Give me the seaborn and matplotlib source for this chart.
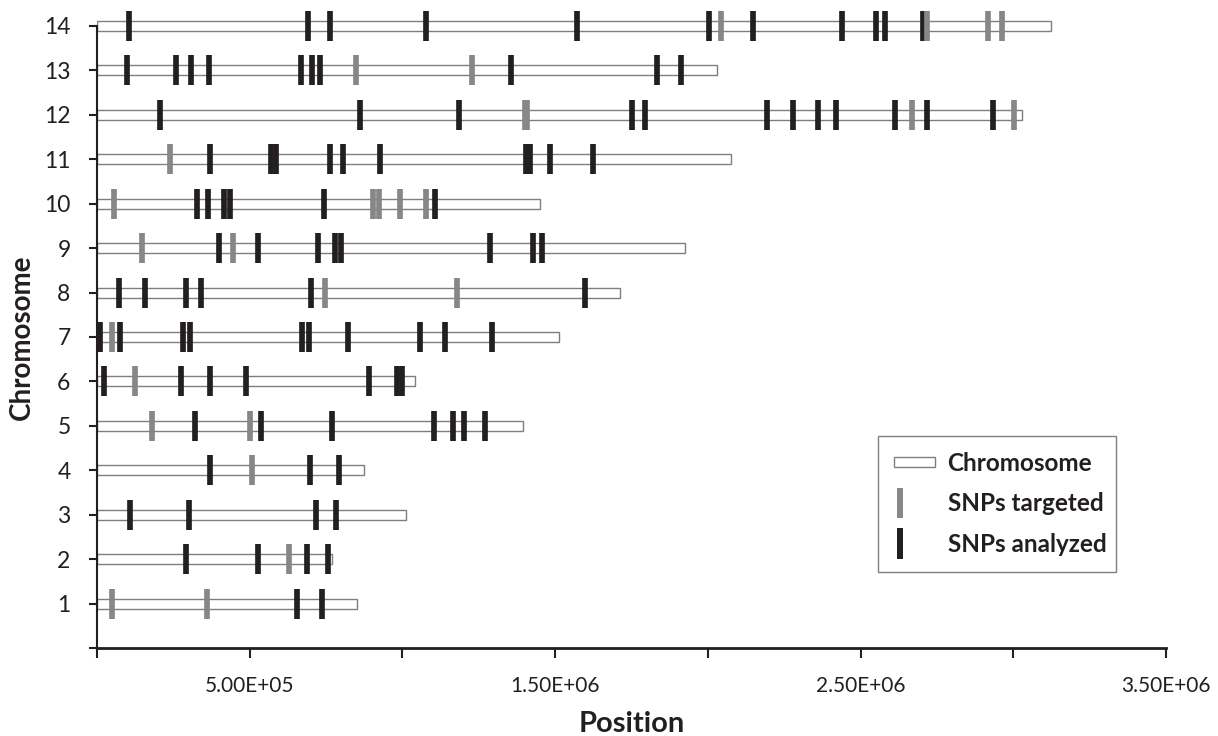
#!/usr/bin/env python3
"""
SNP map plot: chromosome lengths with targeted / analyzed SNP positions.

Usage:
    python plot.py
"""

import numpy as np
import pandas as pd
import matplotlib
matplotlib.use('Agg')
import matplotlib.pyplot as plt
from matplotlib.patches import Rectangle, Patch
from matplotlib.legend_handler import HandlerPatch
import seaborn as sns

# Chromosome lengths (bp)
chrom_ids = [1, 2, 3, 4, 5, 6, 7, 8, 9, 10, 11, 12, 13, 14]
chrom_lengths = [0.850e6, 0.769e6, 1.012e6, 0.873e6, 1.396e6, 1.041e6, 1.514e6,
                 1.711e6, 1.925e6, 1.449e6, 2.076e6, 3.029e6, 2.030e6, 3.124e6]

# SNPs targeted (gray)
targeted_chrom = [1, 1, 2, 4, 5, 5, 6, 7, 8, 8, 9, 9,
                  10, 10, 10, 10, 10, 11, 12, 12, 12, 12, 13, 13,
                  14, 14, 14, 14]
targeted_pos = [0.048e6, 0.361e6, 0.627e6, 0.508e6, 0.180e6, 0.500e6, 0.126e6,
                0.049e6, 0.747e6, 1.178e6, 0.148e6, 0.445e6,
                0.056e6, 0.905e6, 0.923e6, 0.991e6, 1.077e6, 0.240e6,
                1.400e6, 1.407e6, 2.667e6, 3.002e6, 0.849e6, 1.228e6,
                2.042e6, 2.719e6, 2.917e6, 2.963e6]

# SNPs analyzed (black)
analyzed_chrom = [1, 1,
                  2, 2, 2, 2,
                  3, 3, 3, 3,
                  4, 4, 4,
                  5, 5, 5, 5, 5, 5, 5,
                  6, 6, 6, 6, 6, 6, 6,
                  7, 7, 7, 7, 7, 7, 7, 7, 7, 7,
                  8, 8, 8, 8, 8, 8,
                  9, 9, 9, 9, 9, 9, 9, 9,
                  10, 10, 10, 10, 10, 10,
                  11, 11, 11, 11, 11, 11, 11, 11, 11, 11,
                  12, 12, 12, 12, 12, 12, 12, 12, 12, 12, 12, 12,
                  13, 13, 13, 13, 13, 13, 13, 13, 13, 13,
                  14, 14, 14, 14, 14, 14, 14, 14, 14, 14, 14]
analyzed_pos = [0.655e6, 0.737e6,
                0.293e6, 0.527e6, 0.688e6, 0.755e6,
                0.109e6, 0.301e6, 0.716e6, 0.784e6,
                0.371e6, 0.696e6, 0.792e6,
                0.322e6, 0.537e6, 0.769e6, 1.104e6, 1.165e6, 1.200e6, 1.269e6,
                0.023e6, 0.274e6, 0.371e6, 0.487e6, 0.891e6, 0.981e6, 1.000e6,
                0.011e6, 0.074e6, 0.280e6, 0.303e6, 0.672e6, 0.695e6, 0.822e6,
                1.056e6, 1.139e6, 1.293e6,
                0.072e6, 0.158e6, 0.292e6, 0.340e6, 0.702e6, 1.597e6,
                0.400e6, 0.526e6, 0.723e6, 0.780e6, 0.800e6, 1.286e6, 1.429e6, 1.456e6,
                0.328e6, 0.362e6, 0.416e6, 0.436e6, 0.742e6, 1.107e6,
                0.369e6, 0.569e6, 0.585e6, 0.764e6, 0.805e6, 0.926e6,
                1.404e6, 1.418e6, 1.482e6, 1.623e6,
                0.206e6, 0.862e6, 1.185e6, 1.750e6, 1.794e6, 2.193e6,
                2.279e6, 2.360e6, 2.420e6, 2.614e6, 2.716e6, 2.935e6,
                0.099e6, 0.259e6, 0.307e6, 0.366e6, 0.669e6, 0.703e6,
                0.729e6, 1.354e6, 1.835e6, 1.912e6,
                0.106e6, 0.692e6, 0.764e6, 1.076e6, 1.572e6, 2.004e6,
                2.148e6, 2.439e6, 2.549e6, 2.580e6, 2.703e6]

xtick_values = [0, 5e5, 1e6, 1.5e6, 2e6, 2.5e6, 3e6, 3.5e6]
xtick_labeled = [5e5, 1.5e6, 2.5e6, 3.5e6]

DARK = '#231f20'
GRAY = '#878787'
OUTLINE = '#7f7f7f'


def chrom_handle(legend, orig_handle, xdescent, ydescent, width, height, fontsize):
    h = 7.2
    return Rectangle((-xdescent, -ydescent + height / 2 - h / 2), width, h)


def snp_handle(legend, orig_handle, xdescent, ydescent, width, height, fontsize):
    h, w = 22.0, 4.3
    return Rectangle((-xdescent + 2.0, -ydescent + height / 2 - h / 2), w, h)


def main():
    sns.set_style('ticks')
    plt.rcParams['font.family'] = ['Lato', 'DejaVu Sans']

    df_chrom = pd.DataFrame({'chrom': chrom_ids, 'length': chrom_lengths})
    df_tar = pd.DataFrame({'chrom': targeted_chrom, 'pos': targeted_pos})
    df_ana = pd.DataFrame({'chrom': analyzed_chrom, 'pos': analyzed_pos})

    fig = plt.figure(figsize=(12.18, 7.36), dpi=100)
    ax = fig.add_axes([97 / 1218, 1 - 648 / 736, 1069 / 1218, (648 - 9) / 736])

    # chromosome bars
    sns.barplot(data=df_chrom, x='length', y='chrom', orient='y', native_scale=True,
                width=0.225, color='white', edgecolor=OUTLINE, linewidth=1.0,
                errorbar=None, ax=ax)

    # SNP markers
    sns.scatterplot(data=df_ana, x='pos', y='chrom', marker='|', s=497,
                    color=DARK, linewidth=4.1, legend=False, ax=ax)
    sns.scatterplot(data=df_tar, x='pos', y='chrom', marker='|', s=497,
                    color=GRAY, linewidth=4.1, legend=False, ax=ax)

    ax.set_xlim(0, 3.5e6)
    ax.set_ylim(0, 14.38)
    ax.set_xticks(xtick_values)
    ax.set_xticklabels([f"{v:.2E}" if v in xtick_labeled else '' for v in xtick_values])
    ax.set_yticks(range(0, 15))
    ax.set_yticklabels([''] + [str(c) for c in chrom_ids])

    ax.tick_params(axis='y', direction='out', length=6, width=1.5, pad=13,
                   labelsize=16.5, colors=DARK)
    ax.tick_params(axis='x', direction='out', length=7, width=1.5, pad=13,
                   labelsize=15, colors=DARK)

    sns.despine(ax=ax)
    ax.spines['left'].set_bounds(0, 14)
    ax.spines['left'].set_color(DARK)
    ax.spines['left'].set_linewidth(1.5)
    ax.spines['bottom'].set_color(DARK)
    ax.spines['bottom'].set_linewidth(2.0)

    ax.set_xlabel('Position', fontsize=21, fontweight='bold', color=DARK, labelpad=11)
    ax.set_ylabel('Chromosome', fontsize=20, fontweight='bold', color=DARK)
    ax.yaxis.set_label_coords(-0.058, 0.486)

    # legend
    handles = [Patch(facecolor='white', edgecolor=OUTLINE, linewidth=1.0),
               Patch(facecolor=GRAY, edgecolor='none'),
               Patch(facecolor=DARK, edgecolor='none')]
    labels = ['Chromosome', 'SNPs targeted', 'SNPs analyzed']
    leg = ax.legend(handles, labels, loc='lower left', mode='expand',
                    bbox_to_anchor=(0.7306, 0.119, 0.2226, 0.216),
                    handler_map={handles[0]: HandlerPatch(patch_func=chrom_handle),
                                 handles[1]: HandlerPatch(patch_func=snp_handle),
                                 handles[2]: HandlerPatch(patch_func=snp_handle)},
                    prop={'weight': 'bold', 'size': 17.5}, frameon=True, fancybox=False,
                    framealpha=1, edgecolor=OUTLINE, borderpad=0.66, labelspacing=0.72,
                    handlelength=1.7, handletextpad=0.5, borderaxespad=0)
    leg.get_frame().set_linewidth(1.0)
    for t in leg.get_texts():
        t.set_color(DARK)

    fig.savefig('out.png', dpi=100)
    plt.close(fig)


if __name__ == "__main__":
    main()
